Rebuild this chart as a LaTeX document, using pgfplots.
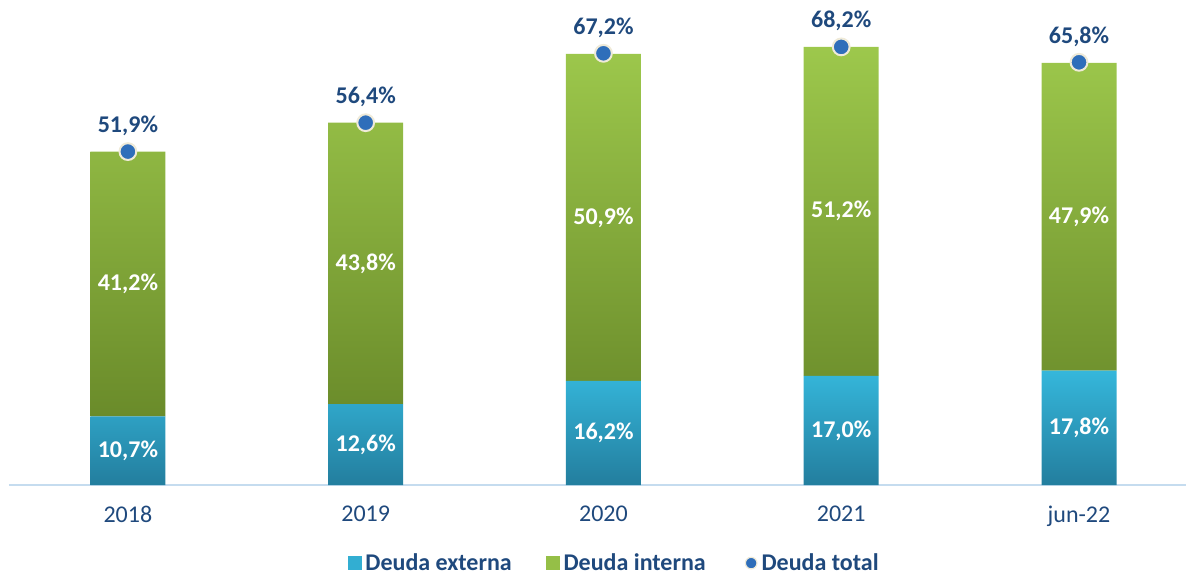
\documentclass[border=0pt]{standalone}
\usepackage{pgfplots}
\pgfplotsset{compat=1.18}
\usepackage{fontspec}
\setmainfont{Carlito}
\definecolor{extTop}{HTML}{35B7DB}
\definecolor{extBot}{HTML}{237E9E}
\definecolor{intTop}{HTML}{9DC84C}
\definecolor{intBot}{HTML}{6A8B2A}
\definecolor{navy}{HTML}{1F497D}
\definecolor{dotblue}{HTML}{2F6EBA}
\definecolor{dotrim}{HTML}{EFEAD8}
\definecolor{axisline}{HTML}{C5DCEF}

\pgfplotsset{
  common/.style={
    width=588.5pt, height=242.5pt, scale only axis,
    xmin=-0.5, xmax=4.45, ymin=0, ymax=75.5,
    clip=false,
    font=\fontsize{12}{14}\selectfont,
  },
  inlabel/.style={
    draw=none, mark=none,
    nodes near coords, point meta=explicit symbolic,
    every node near coord/.append style={anchor=center, text=white,
      font=\fontsize{12}{14}\selectfont\bfseries},
  },
}

\begin{document}
\begin{tikzpicture}
% stacked bars
\begin{axis}[common,
  ybar stacked, bar width=37.5pt,
  axis y line=none,
  axis x line*=bottom,
  x axis line style={axisline, line width=0.8pt, -},
  xtick={0,1,2,3,4},
  xticklabels={2018,2019,2020,2021,jun-22},
  major tick length=0pt,
  xticklabel style={text=navy, yshift=-7pt},
]
\addplot[draw=none, top color=extTop, bottom color=extBot] coordinates {
  (0,10.7) (1,12.6) (2,16.2) (3,17.0) (4,17.8)
};
\addplot[draw=none, top color=intTop, bottom color=intBot] coordinates {
  (0,41.2) (1,43.8) (2,50.9) (3,51.2) (4,47.9)
};
\coordinate (bl) at (rel axis cs:0,0);
\coordinate (tr) at (rel axis cs:1,1);
\end{axis}
% labels, totals, legend
\begin{axis}[common, hide axis,
  legend columns=3,
  legend style={draw=none, fill=none, at={(0.515,-0.161)}, anchor=center,
    font=\fontsize{12}{14}\selectfont\bfseries, text=navy,
    /tikz/every even column/.append style={column sep=15pt}},
]
\addlegendimage{legend image code/.code={\fill[extTop!85!extBot] (0pt,-3.2pt) rectangle (6.5pt,3.2pt);}}
\addlegendentry{Deuda externa}
\addlegendimage{legend image code/.code={\fill[intTop!85!intBot] (0pt,-3.2pt) rectangle (6.5pt,3.2pt);}}
\addlegendentry{Deuda interna}
\addlegendimage{legend image code/.code={\fill[white, opacity=0] (0pt,-0.1pt) rectangle (8pt,0.1pt); \filldraw[fill=dotblue, draw=dotrim, line width=0.6pt] (5.5pt,0pt) circle (2.9pt);}}
\addlegendentry{Deuda total}

\addplot[inlabel, forget plot] coordinates {
  (0,5.35) [10,7\%] (1,6.3) [12,6\%] (2,8.1) [16,2\%] (3,8.5) [17,0\%] (4,8.9) [17,8\%]
};
\addplot[inlabel, forget plot] coordinates {
  (0,31.3) [41,2\%] (1,34.5) [43,8\%] (2,41.65) [50,9\%] (3,42.6) [51,2\%] (4,41.75) [47,9\%]
};
\addplot[forget plot, only marks, mark=*, mark size=4.2pt,
  mark options={fill=dotblue, draw=dotrim, line width=1pt},
  nodes near coords, point meta=explicit symbolic,
  every node near coord/.append style={anchor=south, yshift=4pt, text=navy,
    font=\fontsize{12}{14}\selectfont\bfseries},
] coordinates {
  (0,51.9) [51,9\%] (1,56.4) [56,4\%] (2,67.2) [67,2\%] (3,68.2) [68,2\%] (4,65.8) [65,8\%]
};
\end{axis}
\pgfresetboundingbox
\path[use as bounding box] ([xshift=-4.5pt,yshift=-44pt]bl) rectangle (tr);
\end{tikzpicture}
\end{document}
